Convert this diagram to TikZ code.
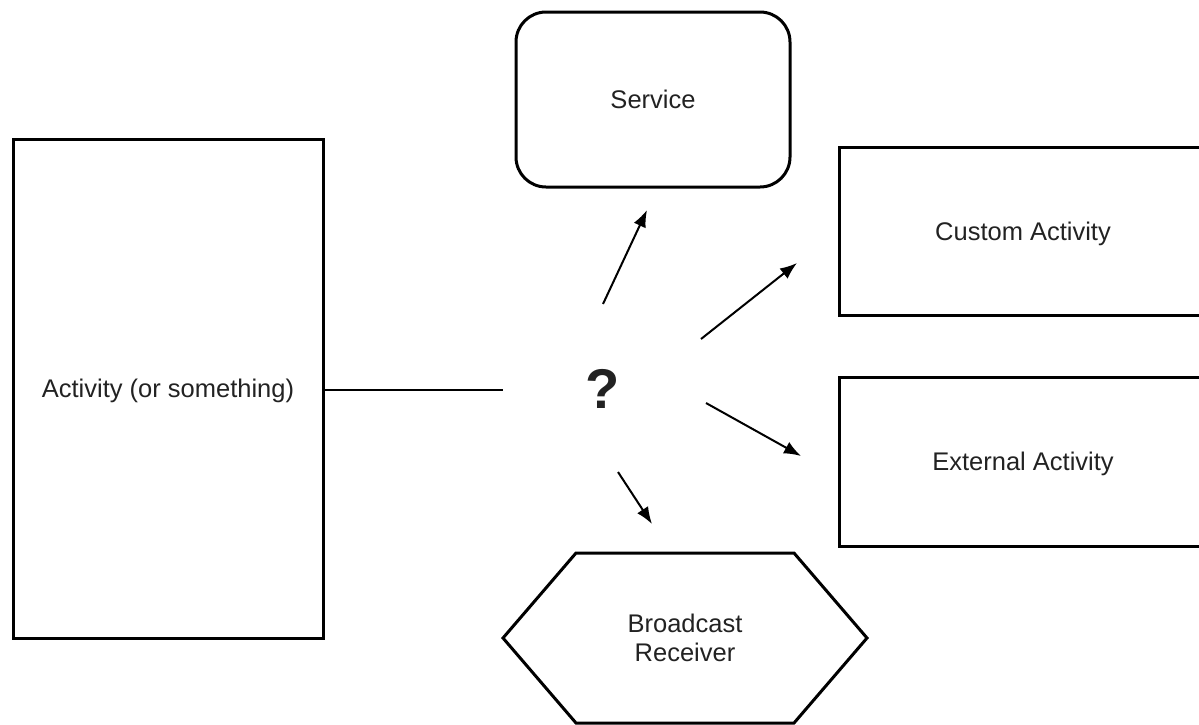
\documentclass[tikz,border=0pt]{standalone}
\usepackage{fontspec}
\setmainfont{Liberation Sans}
\usetikzlibrary{arrows.meta}
\newcommand\labelfont{\fontsize{12.75}{14.5}\selectfont}
\definecolor{ink}{HTML}{222222}
\begin{document}
\begin{tikzpicture}[x=0.5pt, y=-0.5pt,
  box/.style={draw, line width=1.5pt, inner sep=0pt, font=\labelfont, text=ink, align=center},
  link/.style={line width=1pt},
  flow/.style={line width=1pt, -{Latex[length=8.5pt, width=6.5pt]}}]
\useasboundingbox (0,0) rectangle (1199,724);
\clip (0,0) rectangle (1199,724);

% components
\node[box, minimum width=155pt, minimum height=249.5pt, text depth=-2pt] (act) at (168,388.5) {Activity (or something)};
\node[box, rounded corners=15pt, minimum width=137pt, minimum height=87.5pt] (svc) at (653,99.5) {Service};
\node[box, minimum width=184pt, minimum height=84pt, text depth=-2pt] (cust) at (1023,231) {Custom Activity};
\node[box, minimum width=184pt, minimum height=84.5pt, text depth=-1pt] (ext) at (1023,461.5) {External Activity};
\draw[line width=1.5pt, line join=miter] (503,638) -- (576,553) -- (794,553) -- (867,638) -- (794,723) -- (576,723) -- cycle;
\node[font=\labelfont, text=ink, align=center, inner sep=0pt] (bcast) at (685,638) {Broadcast\\Receiver};

% the unknown dispatcher
\node[font=\fontsize{28}{30}\selectfont\bfseries, text=ink, inner sep=0pt] (q) at (603,389) {?};

% connector ends
\coordinate (qin) at (503,390);
\coordinate (s0) at (603,304);  \coordinate (s1) at (647,210);
\coordinate (c0) at (701,339);  \coordinate (c1) at (797,263);
\coordinate (e0) at (706,403);  \coordinate (e1) at (801,456);
\coordinate (b0) at (618,472);  \coordinate (b1) at (652,524);

\draw[link] (act.east |- qin) -- (qin);
\draw[flow] (s0) -- (s1);
\draw[flow] (c0) -- (c1);
\draw[flow] (e0) -- (e1);
\draw[flow] (b0) -- (b1);
\end{tikzpicture}
\end{document}
